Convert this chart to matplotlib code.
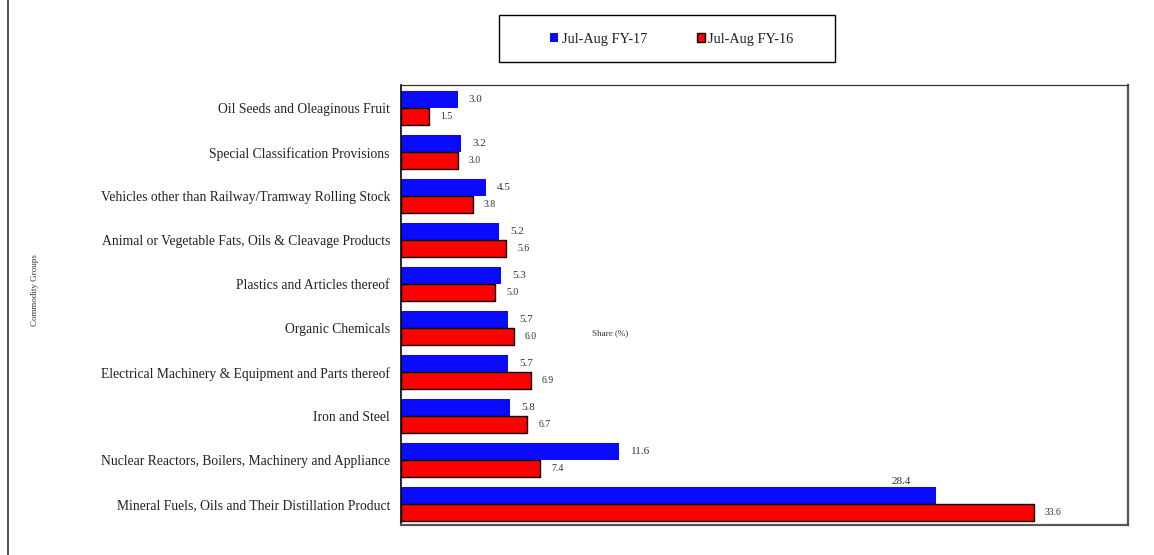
import matplotlib
matplotlib.use('Agg')
import matplotlib.pyplot as plt
from matplotlib.patches import Rectangle, Patch
from matplotlib.lines import Line2D
import numpy as np

plt.rcParams['font.family'] = ['Liberation Serif', 'DejaVu Serif']

# categories listed bottom to top
categories = [
    'Mineral Fuels, Oils and Their Distillation Product',
    'Nuclear Reactors, Boilers, Machinery and Appliance',
    'Iron and Steel',
    'Electrical Machinery & Equipment and Parts thereof',
    'Organic Chemicals',
    'Plastics and Articles thereof',
    'Animal or Vegetable Fats, Oils & Cleavage Products',
    'Vehicles other than Railway/Tramway Rolling Stock',
    'Special Classification Provisions',
    'Oil Seeds and Oleaginous Fruit',
]
fy17 = [28.4, 11.6, 5.8, 5.7, 5.7, 5.3, 5.2, 4.5, 3.2, 3.0]
fy16 = [33.6, 7.4, 6.7, 6.9, 6.0, 5.0, 5.6, 3.8, 3.0, 1.5]
series_names = ['Jul-Aug FY-17', 'Jul-Aug FY-16']

W, H = 1154, 555
fig = plt.figure(figsize=(W / 100, H / 100), dpi=100)
ax = fig.add_axes([401 / W, 1 - 525 / H, (1128 - 401) / W, (525 - 85) / H])

y = np.arange(len(categories))
h = 0.39
ax.barh(y + h / 2, fy17, height=h, color='#0a0aff', edgecolor='none')
ax.barh(y - h / 2, fy16, height=h, color='#ff0000', edgecolor='black', linewidth=1)

txt = '#333333'
for i, v in enumerate(fy17):
    if v > 20:
        ax.annotate(f'{v:.1f}', (v, i + h), xytext=(-25, 1), textcoords='offset points',
                    ha='center', va='bottom', fontsize=8, color=txt)
    else:
        ax.annotate(f'{v:.1f}', (v, i + h / 2), xytext=(8, 0), textcoords='offset points',
                    ha='left', va='center', fontsize=8, color=txt)
for i, v in enumerate(fy16):
    ax.annotate(f'{v:.1f}', (v, i - h / 2), xytext=(8, 0), textcoords='offset points',
                ha='left', va='center', fontsize=7, color=txt)

ax.set_xlim(0, 38.6)
ax.set_ylim(-0.47, 9.53)
ax.set_yticks(y)
ax.set_yticklabels(categories, fontsize=9.8, color='#222222')
ax.set_xticks([])
ax.tick_params(axis='y', length=0, pad=8)

ax.spines['left'].set_color('black')
ax.spines['left'].set_linewidth(1.2)
ax.spines['top'].set_color('#333333')
ax.spines['top'].set_linewidth(0.9)
for s in ['right', 'bottom']:
    ax.spines[s].set_color('#555555')
    ax.spines[s].set_linewidth(1.6)

fig.text(610 / W, 1 - 333 / H, 'Share (%)', fontsize=6.5, color=txt, ha='center', va='center')
fig.text(35 / W, 1 - 290 / H, 'Commodity Groups', fontsize=6.5, color=txt,
         rotation=90, ha='center', va='center')

# left frame line
fig.add_artist(Line2D([8 / W, 8 / W], [0, 1], color='#333333', linewidth=1.2))

# legend box
fig.add_artist(Rectangle((499 / W, 1 - 62 / H), 336 / W, 47 / H, transform=fig.transFigure,
                         fill=False, edgecolor='black', linewidth=1))
handles = [Patch(facecolor='#0a0aff', edgecolor='none'),
           Patch(facecolor='#ff0000', edgecolor='black', linewidth=1)]
fig.legend(handles, series_names, loc='center', bbox_to_anchor=(672 / W, 1 - 39 / H),
           ncol=2, frameon=False, fontsize=10.3, handlelength=0.55, handleheight=0.55,
           handletextpad=0.25, columnspacing=3.5, labelcolor='#222222')

fig.savefig('out.png', dpi=100)
